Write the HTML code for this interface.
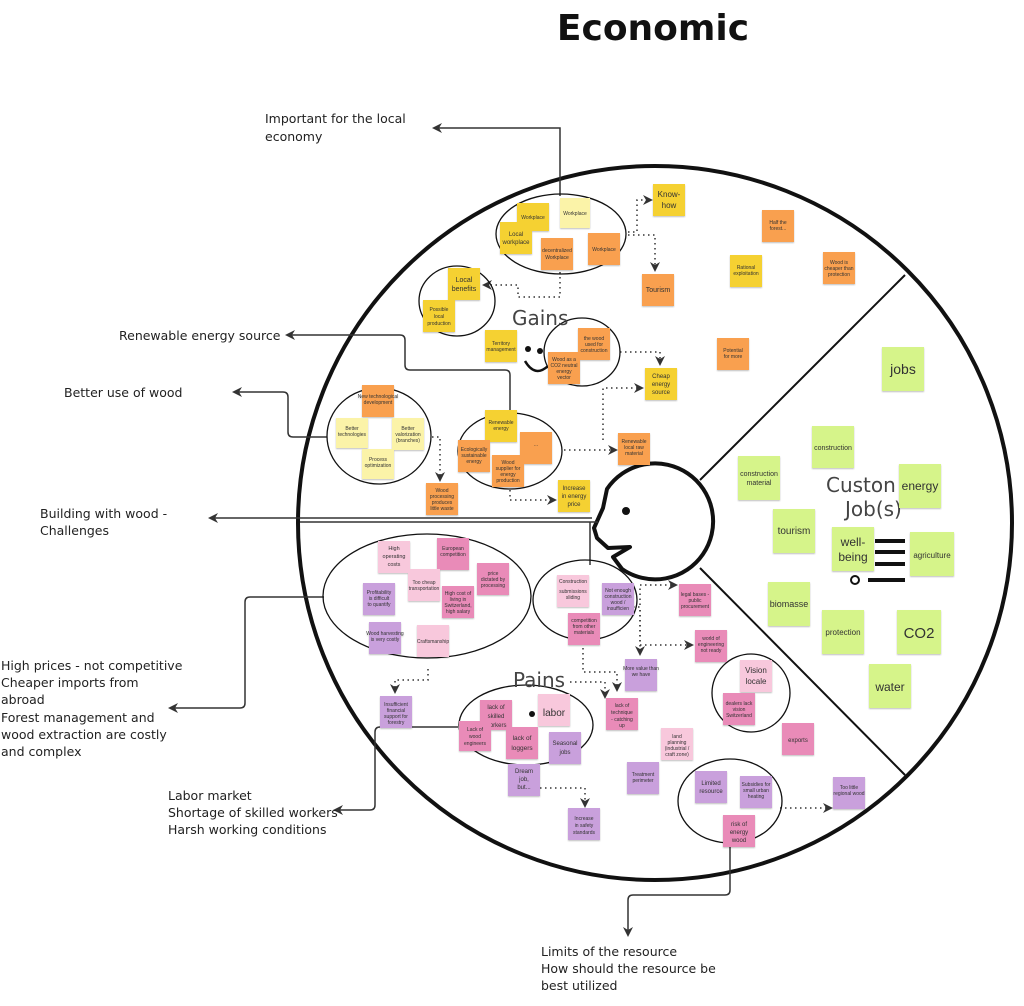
<!DOCTYPE html>
<html><head><meta charset="utf-8"><style>
body{margin:0;background:#fff;}
svg{display:block;font-family:"Liberation Sans",sans-serif;}
.n text{font-size:5px;fill:#333;text-anchor:middle;}
.m{font-size:7px;fill:#333;text-anchor:middle;}
.g text{font-size:13px;fill:#333;text-anchor:middle;}
.g rect{fill:#d6f48a;}
.lb{font-size:12.5px;fill:#222;font-family:"DejaVu Sans",sans-serif;}
</style></head><body>
<svg width="1024" height="1006" viewBox="0 0 1024 1006">
<defs>
<marker id="a" markerWidth="10" markerHeight="10" refX="8" refY="5" orient="auto" markerUnits="userSpaceOnUse"><path d="M0,0 L10,5 L0,10 L3,5 Z" fill="#333"/></marker>
<filter id="s"><feDropShadow dx="0" dy="1" stdDeviation="0.8" flood-opacity="0.25"/></filter>
</defs>
<text x="653" y="40" font-size="36" font-weight="bold" text-anchor="middle" fill="#111" font-family="DejaVu Sans,sans-serif">Economic</text>

<circle cx="655" cy="523" r="357" fill="none" stroke="#111" stroke-width="4"/>
<line x1="700" y1="480" x2="905" y2="275" stroke="#111" stroke-width="2"/>
<line x1="700" y1="568" x2="905" y2="775" stroke="#111" stroke-width="2"/>
<path d="M607 489 A58 58 0 1 1 622 569 L613 557 L630 547 L608 548 L597 538 L594 528 L603 508 Z" fill="#fff" stroke="#111" stroke-width="4" stroke-linejoin="round"/>
<circle cx="626" cy="511" r="4" fill="#111"/>

<g fill="none" stroke="#333" stroke-width="1.5" marker-end="url(#a)">
<path d="M560 196 V128 H434"/>
<path d="M510 410 V375 Q510 370 505 370 H410 Q405 370 405 365 V340 Q405 335 400 335 H287"/>
<path d="M327 437 H293 Q288 437 288 432 V397 Q288 392 283 392 H234"/>
<path d="M324 597 H250 Q245 597 245 602 V703 Q245 708 240 708 H170"/>
<path d="M458 727 H380 Q375 727 375 732 V805 Q375 810 370 810 H335"/>
<path d="M730 842 V890 Q730 895 725 895 H633 Q628 895 628 900 V935"/>
</g>
<path d="M592 518 H210" stroke="#333" stroke-width="1.5" fill="none" marker-end="url(#a)"/>
<path d="M598 522 H300 M590 522 V565" stroke="#333" stroke-width="1.5" fill="none"/>

<g fill="none" stroke="#333" stroke-width="1.5" stroke-dasharray="1.5 3.5" marker-end="url(#a)">
<path d="M628 232 H637 V200 H651"/>
<path d="M628 235 H655 V270"/>
<path d="M560 272 V297 H518 V285 H484"/>
<path d="M620 352 H660 V364"/>
<path d="M603 440 V388 H642"/>
<path d="M564 450 H616"/>
<path d="M432 437 H440 V480"/>
<path d="M510 490 V500 H555"/>
<path d="M428 669 V680 H395 V692"/>
<path d="M633 607 H640 V654"/>
<path d="M640 605 V585 H676"/>
<path d="M640 610 V645 H692"/>
<path d="M583 638 V672 H617 V690"/>
<path d="M570 682 H605 V697"/>
<path d="M520 788 H585 V806"/>
<path d="M780 808 H831"/>
</g>

<g fill="none" stroke="#111" stroke-width="1.3">
<ellipse cx="561" cy="234" rx="65" ry="40"/>
<ellipse cx="457" cy="301" rx="38" ry="35"/>
<ellipse cx="582" cy="352" rx="38" ry="34"/>
<ellipse cx="379" cy="436" rx="52" ry="48"/>
<ellipse cx="510" cy="451" rx="52" ry="38"/>
<ellipse cx="427" cy="596" rx="104" ry="62"/>
<ellipse cx="585" cy="600" rx="52" ry="40"/>
<ellipse cx="526" cy="725" rx="67" ry="40"/>
<ellipse cx="751" cy="693" rx="39" ry="39"/>
<ellipse cx="730" cy="801" rx="52" ry="42"/>
</g>

<text x="512" y="325" font-size="20" fill="#444" font-family="DejaVu Sans,sans-serif">Gains</text>
<text x="513" y="687" font-size="20" fill="#444" font-family="DejaVu Sans,sans-serif">Pains</text>
<text x="826" y="492" font-size="20" fill="#444" font-family="DejaVu Sans,sans-serif">Custon</text>
<text x="845" y="516" font-size="20" fill="#444" font-family="DejaVu Sans,sans-serif">Job(s)</text>
<circle cx="528" cy="349" r="3" fill="#111"/><circle cx="540" cy="351" r="3" fill="#111"/>
<path d="M525 361 Q535 378 548 366" fill="none" stroke="#111" stroke-width="2.5"/>
<circle cx="532" cy="714" r="3" fill="#111"/>
<path d="M875 541 h30 M875 552 h30 M875 564 h30" stroke="#111" stroke-width="4"/><circle cx="855" cy="580" r="4" fill="none" stroke="#111" stroke-width="2"/><path d="M868 580 h37" stroke="#111" stroke-width="4"/>

<g filter="url(#s)">
<g class="n">
<rect x="517" y="203" width="32" height="28" fill="#f5d130"/><text x="533" y="219">Workplace</text>
<rect x="560" y="198" width="30" height="30" fill="#fbf3a8"/><text x="575" y="215">Workplace</text>
<rect x="500" y="222" width="32" height="32" fill="#f5d130"/><text x="516" y="236" style="font-size:6px">Local</text><text x="516" y="244" style="font-size:6px">workplace</text>
<rect x="541" y="238" width="32" height="32" fill="#f9a04f"/><text x="557" y="252">decentralized</text><text x="557" y="259">Workplace</text>
<rect x="588" y="233" width="32" height="32" fill="#f9a04f"/><text x="604" y="251">Workplace</text>
<rect x="653" y="184" width="32" height="32" fill="#f5d130"/><text x="669" y="197" style="font-size:8px">Know-</text><text x="669" y="208" style="font-size:8px">how</text>
<rect x="642" y="274" width="32" height="32" fill="#f9a04f"/><text x="658" y="292" style="font-size:7px">Tourism</text>
<rect x="448" y="268" width="32" height="32" fill="#f5d130"/><text x="464" y="282" style="font-size:7px">Local</text><text x="464" y="291" style="font-size:7px">benefits</text>
<rect x="423" y="300" width="32" height="32" fill="#f5d130"/><text x="439" y="311">Possible</text><text x="439" y="318">local</text><text x="439" y="325">production</text>
<rect x="485" y="330" width="32" height="32" fill="#f5d130"/><text x="501" y="345">Territory</text><text x="501" y="351">management</text>
<rect x="578" y="328" width="32" height="32" fill="#f9a04f"/><text x="594" y="340">the wood</text><text x="594" y="346">used for</text><text x="594" y="352">construction</text>
<rect x="548" y="352" width="32" height="32" fill="#f9a04f"/><text x="564" y="361">Wood as a</text><text x="564" y="367">CO2 neutral</text><text x="564" y="373">energy</text><text x="564" y="379">vector</text>
<rect x="645" y="368" width="32" height="32" fill="#f5d130"/><text x="661" y="378" style="font-size:6px">Cheap</text><text x="661" y="386" style="font-size:6px">energy</text><text x="661" y="394" style="font-size:6px">source</text>
<rect x="730" y="255" width="32" height="32" fill="#f5d130"/><text x="746" y="269">Rational</text><text x="746" y="275">exploitation</text>
<rect x="762" y="210" width="32" height="32" fill="#f9a04f"/><text x="778" y="224">Half the</text><text x="778" y="230">forest...</text>
<rect x="823" y="252" width="32" height="32" fill="#f9a04f"/><text x="839" y="264">Wood is</text><text x="839" y="270">cheaper than</text><text x="839" y="276">protection</text>
<rect x="717" y="338" width="32" height="32" fill="#f9a04f"/><text x="733" y="352">Potential</text><text x="733" y="358">for more</text>
<rect x="362" y="385" width="32" height="32" fill="#f9a04f"/><text x="378" y="398">New technological</text><text x="378" y="404">development</text>
<rect x="336" y="418" width="32" height="30" fill="#fbf3a8"/><text x="352" y="430">Better</text><text x="352" y="436">technologies</text>
<rect x="392" y="418" width="32" height="32" fill="#fbf3a8"/><text x="408" y="430">Better</text><text x="408" y="436">valorization</text><text x="408" y="442">(branches)</text>
<rect x="362" y="449" width="32" height="30" fill="#fbf3a8"/><text x="378" y="461">Process</text><text x="378" y="467">optimization</text>
<rect x="426" y="483" width="32" height="32" fill="#f9a04f"/><text x="442" y="492">Wood</text><text x="442" y="498">processing</text><text x="442" y="504">produces</text><text x="442" y="510">little waste</text>
<rect x="485" y="410" width="32" height="32" fill="#f5d130"/><text x="501" y="424">Renewable</text><text x="501" y="430">energy</text>
<rect x="520" y="432" width="32" height="32" fill="#f9a04f"/><text x="536" y="446">...</text>
<rect x="458" y="440" width="32" height="32" fill="#f9a04f"/><text x="474" y="451">Ecologically</text><text x="474" y="457">sustainable</text><text x="474" y="463">energy</text>
<rect x="492" y="455" width="32" height="32" fill="#f9a04f"/><text x="508" y="464">Wood</text><text x="508" y="470">supplier for</text><text x="508" y="476">energy</text><text x="508" y="482">production</text>
<rect x="618" y="433" width="32" height="32" fill="#f9a04f"/><text x="634" y="443">Renewable</text><text x="634" y="449">local raw</text><text x="634" y="455">material</text>
<rect x="558" y="480" width="32" height="32" fill="#f5d130"/><text x="574" y="490" style="font-size:6px">Increase</text><text x="574" y="498" style="font-size:6px">in energy</text><text x="574" y="506" style="font-size:6px">price</text>
</g>
<g class="g">
<rect x="882" y="347" width="42" height="44"/><text x="903" y="374" style="font-size:14px">jobs</text>
<rect x="812" y="426" width="42" height="42"/><text x="833" y="450" style="font-size:7px">construction</text>
<rect x="738" y="456" width="42" height="44"/><text x="759" y="476" style="font-size:7px">construction</text><text x="759" y="485" style="font-size:7px">material</text>
<rect x="899" y="464" width="42" height="44"/><text x="920" y="490" style="font-size:12px">energy</text>
<rect x="773" y="509" width="42" height="44"/><text x="794" y="534" style="font-size:10px">tourism</text>
<rect x="832" y="527" width="42" height="44"/><text x="853" y="546" style="font-size:12px">well-</text><text x="853" y="561" style="font-size:12px">being</text>
<rect x="910" y="532" width="44" height="44"/><text x="932" y="558" style="font-size:8px">agriculture</text>
<rect x="768" y="582" width="42" height="44"/><text x="789" y="607" style="font-size:9px">biomasse</text>
<rect x="822" y="610" width="42" height="44"/><text x="843" y="635" style="font-size:8px">protection</text>
<rect x="897" y="610" width="44" height="44"/><text x="919" y="638" style="font-size:15px">CO2</text>
<rect x="869" y="664" width="42" height="44"/><text x="890" y="691" style="font-size:12px">water</text>
</g>
<g class="n">
<rect x="378" y="541" width="32" height="32" fill="#f8c8dc"/><text x="394" y="550" style="font-size:5.5px">High</text><text x="394" y="558" style="font-size:5.5px">operating</text><text x="394" y="566" style="font-size:5.5px">costs</text>
<rect x="437" y="538" width="32" height="32" fill="#e98bb8"/><text x="453" y="550">European</text><text x="453" y="556">competition</text>
<rect x="477" y="563" width="32" height="32" fill="#e98bb8"/><text x="493" y="575">price</text><text x="493" y="581">dictated by</text><text x="493" y="587">processing</text>
<rect x="408" y="569" width="32" height="32" fill="#f8c8dc"/><text x="424" y="584">Too cheap</text><text x="424" y="590">transportation</text>
<rect x="363" y="583" width="32" height="32" fill="#c9a0dc"/><text x="379" y="594">Profitability</text><text x="379" y="600">is difficult</text><text x="379" y="606">to quantify</text>
<rect x="442" y="586" width="32" height="32" fill="#e98bb8"/><text x="458" y="595">High cost of</text><text x="458" y="601">living in</text><text x="458" y="607">Switzerland,</text><text x="458" y="613">high salary</text>
<rect x="369" y="622" width="32" height="32" fill="#c9a0dc"/><text x="385" y="635">Wood harvesting</text><text x="385" y="641">is very costly</text>
<rect x="417" y="625" width="32" height="32" fill="#f8c8dc"/><text x="433" y="643">Craftsmanship</text>
<rect x="557" y="575" width="32" height="32" fill="#f8c8dc"/><text x="573" y="583">Construction</text><text x="573" y="593">submissions</text><text x="573" y="599">sliding</text>
<rect x="602" y="583" width="32" height="32" fill="#c9a0dc"/><text x="618" y="592">Not enough</text><text x="618" y="598">construction</text><text x="618" y="604">wood /</text><text x="618" y="610">insufficien</text>
<rect x="568" y="613" width="32" height="32" fill="#e98bb8"/><text x="584" y="622">competition</text><text x="584" y="628">from other</text><text x="584" y="634">materials</text>
<rect x="679" y="584" width="32" height="32" fill="#e98bb8"/><text x="695" y="596">legal bases -</text><text x="695" y="602">public</text><text x="695" y="608">procurement</text>
<rect x="695" y="630" width="32" height="32" fill="#e98bb8"/><text x="711" y="640">world of</text><text x="711" y="646">engineering</text><text x="711" y="652">not ready</text>
<rect x="380" y="696" width="32" height="32" fill="#c9a0dc"/><text x="396" y="706">Insufficient</text><text x="396" y="712">financial</text><text x="396" y="718">support for</text><text x="396" y="724">forestry</text>
<rect x="625" y="659" width="32" height="32" fill="#c9a0dc"/><text x="641" y="670">More value than</text><text x="641" y="676">we have</text>
<rect x="606" y="698" width="32" height="32" fill="#e98bb8"/><text x="622" y="707">lack of</text><text x="622" y="714">technique</text><text x="622" y="721">- catching</text><text x="622" y="727">up</text>
<rect x="480" y="700" width="32" height="30" fill="#e98bb8"/><text x="496" y="709" style="font-size:6px">lack of</text><text x="496" y="718" style="font-size:6px">skilled</text><text x="496" y="727" style="font-size:6px">workers</text>
<rect x="538" y="694" width="32" height="32" fill="#f8c8dc"/><text x="554" y="716" style="font-size:10px">labor</text>
<rect x="459" y="721" width="32" height="30" fill="#e98bb8"/><text x="475" y="731">Lack of</text><text x="475" y="738">wood</text><text x="475" y="745">engineers</text>
<rect x="506" y="727" width="32" height="32" fill="#e98bb8"/><text x="522" y="740" style="font-size:6.5px">lack of</text><text x="522" y="750" style="font-size:6.5px">loggers</text>
<rect x="549" y="732" width="32" height="32" fill="#c9a0dc"/><text x="565" y="745" style="font-size:6px">Seasonal</text><text x="565" y="754" style="font-size:6px">jobs</text>
<rect x="508" y="764" width="32" height="32" fill="#c9a0dc"/><text x="524" y="773" style="font-size:6px">Dream</text><text x="524" y="781" style="font-size:6px">job,</text><text x="524" y="789" style="font-size:6px">but...</text>
<rect x="568" y="808" width="32" height="32" fill="#c9a0dc"/><text x="584" y="820">Increase</text><text x="584" y="827">in safety</text><text x="584" y="834">standards</text>
<rect x="661" y="728" width="32" height="32" fill="#f8c8dc"/><text x="677" y="738">land</text><text x="677" y="744">planning</text><text x="677" y="750">(industrial /</text><text x="677" y="756">craft zone)</text>
<rect x="627" y="762" width="32" height="32" fill="#c9a0dc"/><text x="643" y="776">Treatment</text><text x="643" y="782">perimeter</text>
<rect x="695" y="771" width="32" height="32" fill="#c9a0dc"/><text x="711" y="785" style="font-size:6px">Limited</text><text x="711" y="793" style="font-size:6px">resource</text>
<rect x="740" y="660" width="32" height="32" fill="#f8c8dc"/><text x="756" y="673" style="font-size:8px">Vision</text><text x="756" y="684" style="font-size:8px">locale</text>
<rect x="723" y="693" width="32" height="32" fill="#e98bb8"/><text x="739" y="705">dealers lack</text><text x="739" y="711">vision</text><text x="739" y="717">Switzerland</text>
<rect x="782" y="723" width="32" height="32" fill="#e98bb8"/><text x="798" y="742" style="font-size:6px">exports</text>
<rect x="740" y="776" width="32" height="32" fill="#c9a0dc"/><text x="756" y="786">Subsidies for</text><text x="756" y="792">small urban</text><text x="756" y="798">heating</text>
<rect x="723" y="815" width="32" height="32" fill="#e98bb8"/><text x="739" y="826" style="font-size:6px">risk of</text><text x="739" y="834" style="font-size:6px">energy</text><text x="739" y="842" style="font-size:6px">wood</text>
<rect x="833" y="777" width="32" height="32" fill="#c9a0dc"/><text x="849" y="789">Too little</text><text x="849" y="795">regional wood</text>
</g>
</g>

<g class="lb">
<text x="265" y="123">Important for the local</text><text x="265" y="141">economy</text>
<text x="119" y="340">Renewable energy source</text>
<text x="64" y="397">Better use of wood</text>
<text x="40" y="518">Building with wood -</text><text x="40" y="535">Challenges</text>
<text x="1" y="670">High prices - not competitive</text>
<text x="1" y="687">Cheaper imports from</text>
<text x="1" y="704">abroad</text>
<text x="1" y="722">Forest management and</text>
<text x="1" y="739">wood extraction are costly</text>
<text x="1" y="756">and complex</text>
<text x="168" y="800">Labor market</text>
<text x="168" y="817">Shortage of skilled workers</text>
<text x="168" y="834">Harsh working conditions</text>
<text x="541" y="956">Limits of the resource</text>
<text x="541" y="973">How should the resource be</text>
<text x="541" y="990">best utilized</text>
</g>
</svg>
</body></html>
